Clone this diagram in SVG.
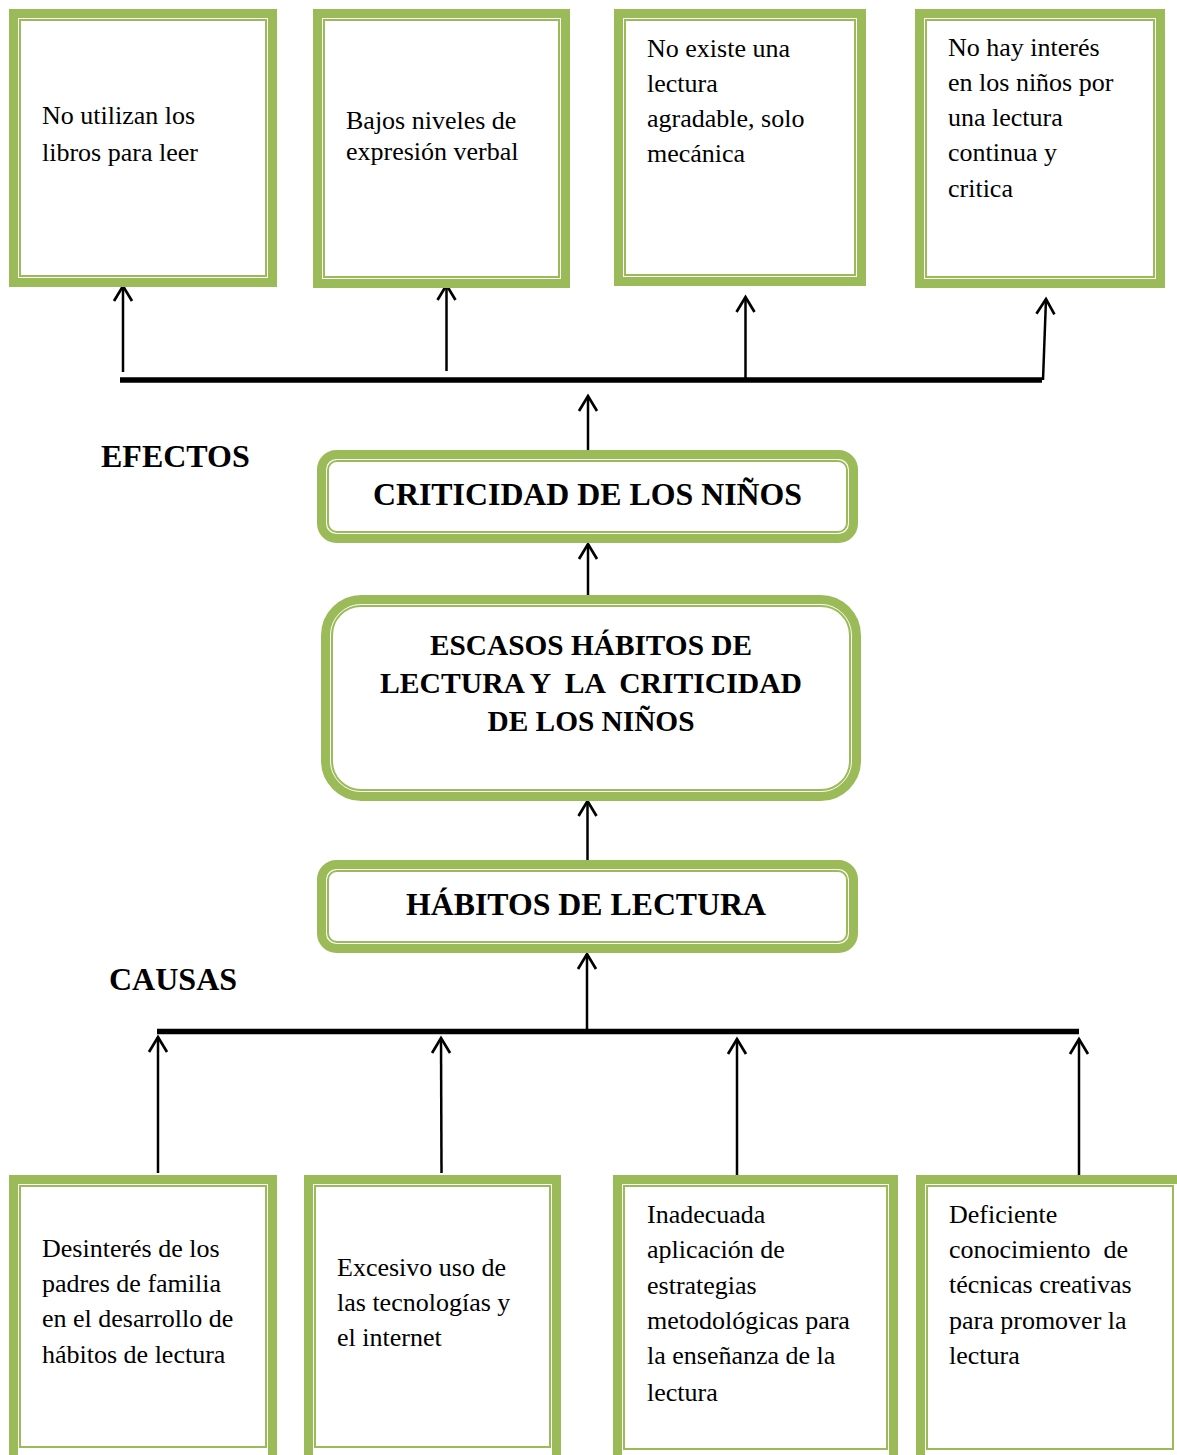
<svg xmlns="http://www.w3.org/2000/svg" width="1177" height="1455" viewBox="0 0 1177 1455">
<style>
.thick{fill:#fff;stroke:#9BBB59;stroke-width:9}
.thin{fill:none;stroke:#9BBB59;stroke-width:2}
.t{font-family:"Liberation Serif","Times New Roman",serif;font-size:26px;fill:#000}
.b{font-family:"Liberation Serif","Times New Roman",serif;font-weight:bold;fill:#000}
.arr{stroke:#000;stroke-width:2.5;fill:none;marker-end:url(#ah)}
.bar{stroke:#000;stroke-width:5.5}
</style>
<defs>
<marker id="ah" markerUnits="userSpaceOnUse" markerWidth="40" markerHeight="40" refX="0" refY="0" orient="auto" overflow="visible" viewBox="-20 -20 40 40">
<path d="M-15,-9 L0,0 L-15,9" fill="none" stroke="#000" stroke-width="2.7"/>
</marker>
</defs>
<rect width="1177" height="1455" fill="#fff"/>

<g id="connectors">
<line class="bar" x1="120" y1="380" x2="1042" y2="380"/>
<line class="bar" x1="157" y1="1031.5" x2="1079" y2="1031.5"/>
<line class="arr" x1="123" y1="372" x2="123" y2="286"/>
<line class="arr" x1="446.5" y1="371" x2="446.5" y2="285"/>
<line class="arr" x1="745.5" y1="379" x2="745.5" y2="297"/>
<line class="arr" x1="1043" y1="380" x2="1046" y2="299"/>
<line class="arr" x1="588" y1="455" x2="588" y2="396"/>
<line class="arr" x1="588" y1="600" x2="588" y2="544"/>
<line class="arr" x1="587.5" y1="862" x2="587.5" y2="801"/>
<line class="arr" x1="587" y1="1030" x2="587" y2="954"/>
<line class="arr" x1="158" y1="1173" x2="158" y2="1037"/>
<line class="arr" x1="441.5" y1="1173" x2="441" y2="1038"/>
<line class="arr" x1="737" y1="1180" x2="737" y2="1039"/>
<line class="arr" x1="1079" y1="1177" x2="1079" y2="1039"/>
</g>

<g id="efecto1">
<rect class="thick" x="13.5" y="13.5" width="259" height="269"/>
<rect class="thin" x="20" y="20" width="246" height="256"/>
<text class="t" x="42" y="124">No utilizan los</text>
<text class="t" x="42" y="161">libros para leer</text>
</g>
<g id="efecto2">
<rect class="thick" x="317.5" y="13.5" width="248" height="270"/>
<rect class="thin" x="324" y="20" width="235" height="257"/>
<text class="t" x="346" y="129">Bajos niveles de</text>
<text class="t" x="346" y="160">expresión verbal</text>
</g>
<g id="efecto3">
<rect class="thick" x="618.5" y="13.5" width="243" height="268"/>
<rect class="thin" x="625" y="20" width="230" height="255"/>
<text class="t" x="647" y="57">No existe una</text>
<text class="t" x="647" y="92">lectura</text>
<text class="t" x="647" y="127">agradable, solo</text>
<text class="t" x="647" y="162">mecánica</text>
</g>
<g id="efecto4">
<rect class="thick" x="919.5" y="13.5" width="241" height="270"/>
<rect class="thin" x="926" y="20" width="228" height="257"/>
<text class="t" x="948" y="56">No hay interés</text>
<text class="t" x="948" y="91">en los niños por</text>
<text class="t" x="948" y="126">una lectura</text>
<text class="t" x="948" y="161">continua y</text>
<text class="t" x="948" y="197">critica</text>
</g>

<g id="lbl-efectos">
<text class="b" x="101" y="467" font-size="32">EFECTOS</text>
</g>
<g id="lbl-causas">
<text class="b" x="109" y="990" font-size="32">CAUSAS</text>
</g>

<g id="criticidad">
<rect class="thick" x="321.5" y="454.5" width="532" height="84" rx="15"/>
<rect class="thin" x="328" y="461" width="519" height="71" rx="9"/>
<text class="b" x="587.5" y="505" font-size="32" text-anchor="middle" textLength="429" lengthAdjust="spacingAndGlyphs">CRITICIDAD DE LOS NIÑOS</text>
</g>

<g id="problema">
<rect class="thick" x="325.5" y="599.5" width="531" height="197" rx="36"/>
<rect class="thin" x="332" y="606" width="518" height="184" rx="29"/>
<text class="b" x="591" y="655" font-size="29" text-anchor="middle" textLength="322" lengthAdjust="spacingAndGlyphs">ESCASOS HÁBITOS DE</text>
<text class="b" x="591" y="693" font-size="29" text-anchor="middle" textLength="422" lengthAdjust="spacingAndGlyphs" xml:space="preserve">LECTURA Y  LA  CRITICIDAD</text>
<text class="b" x="591" y="731" font-size="29" text-anchor="middle" textLength="207" lengthAdjust="spacingAndGlyphs">DE LOS NIÑOS</text>
</g>

<g id="habitos">
<rect class="thick" x="321.5" y="864.5" width="532" height="84" rx="15"/>
<rect class="thin" x="328" y="871" width="519" height="71" rx="9"/>
<text class="b" x="586" y="915" font-size="32" text-anchor="middle" textLength="360" lengthAdjust="spacingAndGlyphs">HÁBITOS DE LECTURA</text>
</g>

<g id="causa1">
<rect class="thick" x="13.5" y="1179.5" width="259" height="290"/>
<rect class="thin" x="20" y="1186" width="246" height="261"/>
<text class="t" x="42" y="1257">Desinterés de los</text>
<text class="t" x="42" y="1292">padres de familia</text>
<text class="t" x="42" y="1327">en el desarrollo de</text>
<text class="t" x="42" y="1363">hábitos de lectura</text>
</g>
<g id="causa2">
<rect class="thick" x="308.5" y="1179.5" width="248" height="290"/>
<rect class="thin" x="315" y="1186" width="235" height="261"/>
<text class="t" x="337" y="1276">Excesivo uso de</text>
<text class="t" x="337" y="1311">las tecnologías y</text>
<text class="t" x="337" y="1346">el internet</text>
</g>
<g id="causa3">
<rect class="thick" x="617.5" y="1179.5" width="276" height="290"/>
<rect class="thin" x="624" y="1186" width="263" height="263"/>
<text class="t" x="647" y="1223">Inadecuada</text>
<text class="t" x="647" y="1258">aplicación de</text>
<text class="t" x="647" y="1294">estrategias</text>
<text class="t" x="647" y="1329">metodológicas para</text>
<text class="t" x="647" y="1364">la enseñanza de la</text>
<text class="t" x="647" y="1401">lectura</text>
</g>
<g id="causa4">
<rect class="thick" x="920.5" y="1179.5" width="265" height="290"/>
<rect class="thin" x="927" y="1186" width="246" height="263"/>
<text class="t" x="949" y="1223">Deficiente</text>
<text class="t" x="949" y="1258" xml:space="preserve">conocimiento  de</text>
<text class="t" x="949" y="1293">técnicas creativas</text>
<text class="t" x="949" y="1329">para promover la</text>
<text class="t" x="949" y="1364">lectura</text>
</g>
</svg>
